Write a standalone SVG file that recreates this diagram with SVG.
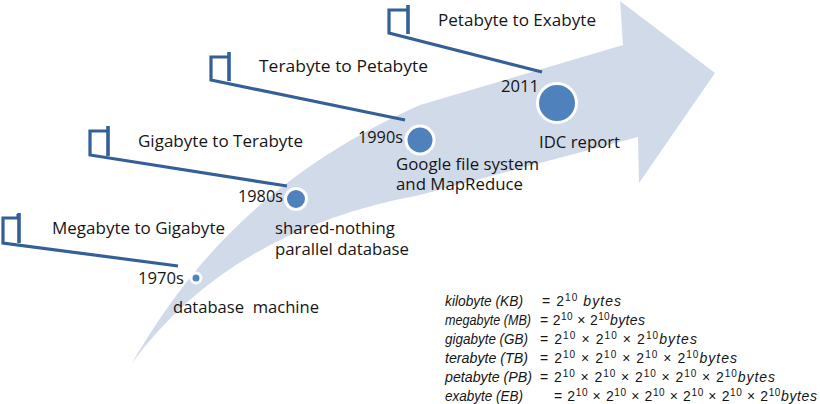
<svg xmlns="http://www.w3.org/2000/svg" width="820" height="404" viewBox="0 0 820 404">
<style>
.lbl{font-family:"Open Sans","Liberation Sans",sans-serif;font-size:15.5px;fill:#151515}
.lead{fill:none;stroke:#345F97;stroke-width:3.2;stroke-linejoin:miter}
.post{fill:none;stroke:#345F97;stroke-width:3.6}
.dot{fill:#4F81BD;stroke:#ffffff;stroke-width:3}
.f{font-family:"Liberation Sans",sans-serif;font-size:14px;fill:#151515}
.it{font-style:italic}
.sup{font-size:10px}
</style>
<rect width="820" height="404" fill="#ffffff"/>
<g id="band">
<path d="M132,363 C170,300 240,185 420,105 L623,45 L620,1 L715,73 L639,183 L638,137 L420,195 Q230,230 132,363 Z" fill="#D1DAE9"/>
</g>
<g id="connectors">
<path class="lead" d="M18,214 L18,218 L3,218 L3,243 L178,266"/>
<path class="post" d="M19,213 L19,243"/>
<path class="lead" d="M107,131 L90,131 L90,155 L287,186"/>
<path class="post" d="M108,126 L108,156"/>
<path class="lead" d="M228,57 L211,57 L211,80 L405,120"/>
<path class="post" d="M229,52 L229,81"/>
<path class="lead" d="M407,10 L389,10 L389,33 L542,72"/>
<path class="post" d="M408,5 L408,34"/>
</g>
<g id="node-1970s">
<circle class="dot" cx="196" cy="278" r="5"/>
<text class="lbl" x="52" y="234" textLength="173" lengthAdjust="spacingAndGlyphs">Megabyte to Gigabyte</text>
<text class="lbl" x="138" y="284" textLength="46" lengthAdjust="spacingAndGlyphs">1970s</text>
<text class="lbl" x="173" y="313" textLength="146" lengthAdjust="spacingAndGlyphs" xml:space="preserve">database  machine</text>
</g>
<g id="node-1980s">
<circle class="dot" cx="296" cy="199" r="10.5"/>
<text class="lbl" x="138" y="147" textLength="165" lengthAdjust="spacingAndGlyphs">Gigabyte to Terabyte</text>
<text class="lbl" x="238" y="202" textLength="45" lengthAdjust="spacingAndGlyphs">1980s</text>
<text class="lbl" x="275" y="234" textLength="120" lengthAdjust="spacingAndGlyphs">shared-nothing</text>
<text class="lbl" x="275" y="255" textLength="134" lengthAdjust="spacingAndGlyphs">parallel database</text>
</g>
<g id="node-1990s">
<circle class="dot" cx="420" cy="140" r="14"/>
<text class="lbl" x="259" y="72" textLength="169" lengthAdjust="spacingAndGlyphs">Terabyte to Petabyte</text>
<text class="lbl" x="358" y="143" textLength="45" lengthAdjust="spacingAndGlyphs">1990s</text>
<text class="lbl" x="396" y="170" textLength="143" lengthAdjust="spacingAndGlyphs">Google file system</text>
<text class="lbl" x="396" y="190" textLength="127" lengthAdjust="spacingAndGlyphs">and MapReduce</text>
</g>
<g id="node-2011">
<circle class="dot" cx="557" cy="103" r="19.5"/>
<text class="lbl" x="438" y="26" textLength="158" lengthAdjust="spacingAndGlyphs">Petabyte to Exabyte</text>
<text class="lbl" x="501" y="92" textLength="38" lengthAdjust="spacingAndGlyphs">2011</text>
<text class="lbl" x="539" y="148" textLength="81" lengthAdjust="spacingAndGlyphs">IDC report</text>
</g>
<g id="units">
<text class="f it" x="445" y="306" textLength="78" lengthAdjust="spacingAndGlyphs">kilobyte (KB)</text>
<text class="f" x="542" y="306" textLength="79" lengthAdjust="spacing">= 2<tspan class="sup" dy="-5">10</tspan><tspan class="it" dy="5"> bytes</tspan></text>
<text class="f it" x="445" y="325" textLength="86" lengthAdjust="spacingAndGlyphs">megabyte (MB)</text>
<text class="f" x="540" y="325" textLength="105" lengthAdjust="spacing">= 2<tspan class="sup" dy="-5">10</tspan><tspan dy="5"> × 2</tspan><tspan class="sup" dy="-5">10</tspan><tspan class="it" dy="5">bytes</tspan></text>
<text class="f it" x="445" y="344" textLength="83" lengthAdjust="spacingAndGlyphs">gigabyte (GB)</text>
<text class="f" x="540" y="344" textLength="157" lengthAdjust="spacing">= 2<tspan class="sup" dy="-5">10</tspan><tspan dy="5"> × 2</tspan><tspan class="sup" dy="-5">10</tspan><tspan dy="5"> × 2</tspan><tspan class="sup" dy="-5">10</tspan><tspan class="it" dy="5">bytes</tspan></text>
<text class="f it" x="445" y="363" textLength="83" lengthAdjust="spacingAndGlyphs">terabyte (TB)</text>
<text class="f" x="540" y="363" textLength="197" lengthAdjust="spacing">= 2<tspan class="sup" dy="-5">10</tspan><tspan dy="5"> × 2</tspan><tspan class="sup" dy="-5">10</tspan><tspan dy="5"> × 2</tspan><tspan class="sup" dy="-5">10</tspan><tspan dy="5"> × 2</tspan><tspan class="sup" dy="-5">10</tspan><tspan class="it" dy="5">bytes</tspan></text>
<text class="f it" x="445" y="382" textLength="87" lengthAdjust="spacingAndGlyphs">petabyte (PB)</text>
<text class="f" x="540" y="382" textLength="235" lengthAdjust="spacing">= 2<tspan class="sup" dy="-5">10</tspan><tspan dy="5"> × 2</tspan><tspan class="sup" dy="-5">10</tspan><tspan dy="5"> × 2</tspan><tspan class="sup" dy="-5">10</tspan><tspan dy="5"> × 2</tspan><tspan class="sup" dy="-5">10</tspan><tspan dy="5"> × 2</tspan><tspan class="sup" dy="-5">10</tspan><tspan class="it" dy="5">bytes</tspan></text>
<text class="f it" x="445" y="401" textLength="78" lengthAdjust="spacingAndGlyphs">exabyte (EB)</text>
<text class="f" x="554" y="401" textLength="263" lengthAdjust="spacing">= 2<tspan class="sup" dy="-5">10</tspan><tspan dy="5"> × 2</tspan><tspan class="sup" dy="-5">10</tspan><tspan dy="5"> × 2</tspan><tspan class="sup" dy="-5">10</tspan><tspan dy="5"> × 2</tspan><tspan class="sup" dy="-5">10</tspan><tspan dy="5"> × 2</tspan><tspan class="sup" dy="-5">10</tspan><tspan dy="5"> × 2</tspan><tspan class="sup" dy="-5">10</tspan><tspan class="it" dy="5">bytes</tspan></text>
</g>
</svg>
